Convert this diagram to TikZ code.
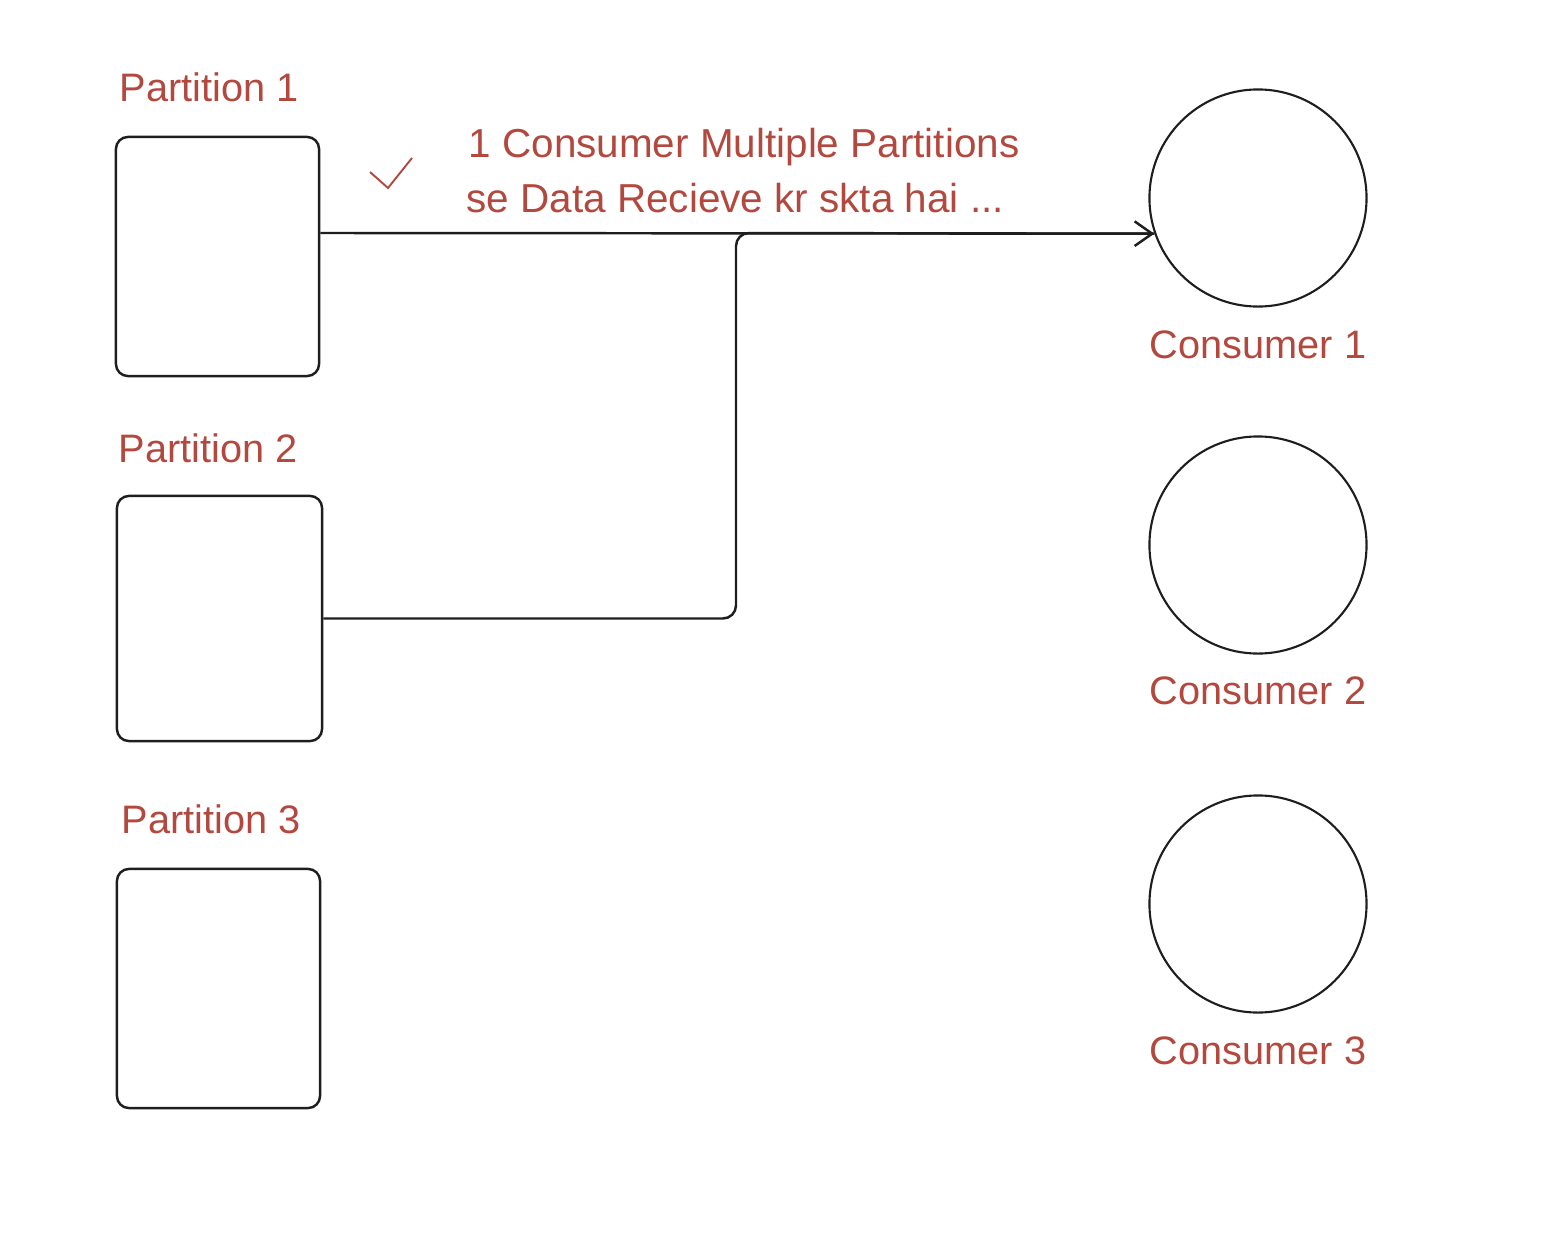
\documentclass[tikz,border=0pt]{standalone}
\usepackage{fontspec}
\setmainfont{Liberation Sans}
\usetikzlibrary{positioning,arrows.meta}
\definecolor{labred}{RGB}{178,72,62}
\definecolor{inkgrey}{RGB}{30,30,30}
\tikzset{
  pbox/.style={draw=inkgrey,line width=0.7pt,rounded corners=0.12cm,minimum width=2.03cm,minimum height=2.39cm,inner sep=0pt},
  cnode/.style={circle,draw=inkgrey,line width=0.6pt,minimum size=2.17cm,inner sep=0pt},
  conn/.style={draw=inkgrey,line width=0.7pt},
  dlab/.style={text=labred,font=\fontsize{11.3}{13}\selectfont,inner sep=0pt},
  nlab/.style={dlab,font=\fontsize{11.5}{13}\selectfont}
}
\begin{document}
\begin{tikzpicture}[x=0.01cm,y=-0.01cm]
    \useasboundingbox (0,0) rectangle (1544,1236);
    \node[pbox] (p1) at (217.5,256.5) {};
    \node[pbox,minimum width=2.05cm,minimum height=2.45cm] (p2) at (219.5,618.5) {};
    \node[pbox] (p3) at (218.5,988.5) {};
    \node[dlab,anchor=base west] (p1lab) at (119,101) {Partition 1};
    \node[dlab,anchor=base west] (p2lab) at (118,462) {Partition 2};
    \node[dlab,anchor=base west] (p3lab) at (121,833) {Partition 3};
    \node[cnode] (c1) at (1258,198) {};
    \node[cnode] (c2) at (1258,545) {};
    \node[cnode] (c3) at (1258,904) {};
    \node[dlab,anchor=base] (c1lab) at (1258,358) {Consumer 1};
    \node[dlab,anchor=base] (c2lab) at (1258,704) {Consumer 2};
    \node[dlab,anchor=base] (c3lab) at (1258,1064) {Consumer 3};
    \node[nlab,anchor=base west] (note1) at (468,157) {1 Consumer Multiple Partitions};
    \node[nlab,anchor=base west] (note2) at (466,212) {se Data Recieve kr skta hai ...};
    \draw[labred,line width=0.55pt] (370,172) -- (388,188) -- (412,158);
    \coordinate (join) at (736,233);
    \draw[conn,-{Straight Barb[length=5pt,width=7pt]}] ([yshift=0.235cm]p1.east) -- (c1.199);
    \draw[conn,rounded corners=0.13cm] (p2.east) -| (join) -- (c1.199);
  \end{tikzpicture}
\end{document}
